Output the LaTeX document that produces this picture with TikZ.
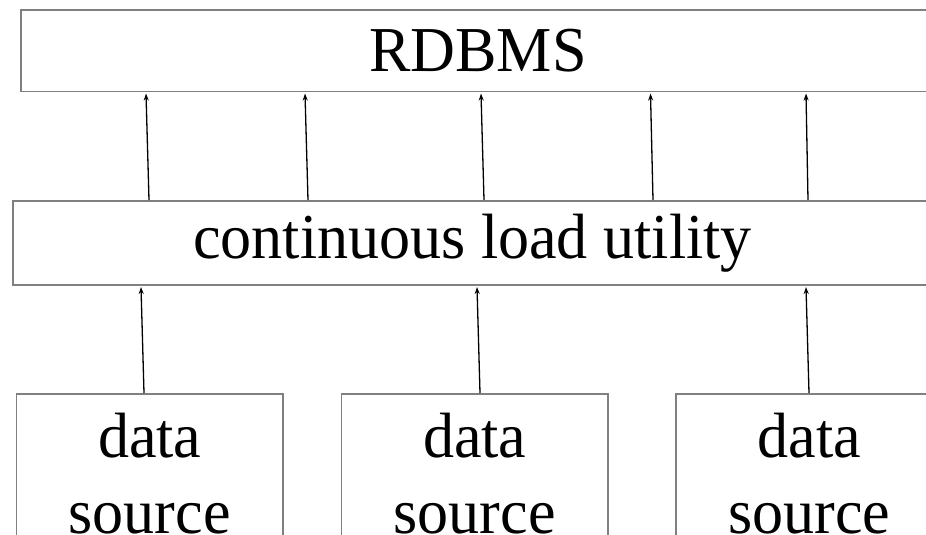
\documentclass[tikz,border=0pt]{standalone}
\usepackage{fontspec}
\setmainfont{Liberation Serif}[FakeStretch=0.97]
\usetikzlibrary{arrows.meta}
\definecolor{boxgray}{HTML}{808080}
\tikzset{
  boxstyle/.style={draw=boxgray, line width=1.6pt, rectangle, inner sep=0pt, outer sep=0pt,
    anchor=north west, font=\fontsize{64}{76}\selectfont, text=black},
  dsbox/.style={boxstyle, align=center, minimum width=266.5pt, inner ysep=19pt},
  conn/.style={line width=1.3pt, -{Stealth[length=7pt,width=5pt]}}
}
\begin{document}
\begin{tikzpicture}[x=1pt, y=-1pt]
\useasboundingbox (0,0) rectangle (926,535);
\clip (0,0) rectangle (926,535);
\node[boxstyle, minimum width=914pt, minimum height=81.5pt] (rdbms) at (21,10) {RDBMS};
\node[boxstyle, minimum width=919pt, minimum height=84pt] (cont) at (13,201) {\raisebox{-2pt}{continuous load utility}};
\node[dsbox] (ds1) at (16.5,394) {data\\source};
\node[dsbox] (ds2) at (341.5,394) {data\\source};
\node[dsbox] (ds3) at (676,394) {data\\source};
% upper connectors
\coordinate (a1) at (149,200); \coordinate (b1) at (146,93.5);
\coordinate (a2) at (308,200); \coordinate (b2) at (305,93.5);
\coordinate (a3) at (484,200); \coordinate (b3) at (481,93.5);
\coordinate (a4) at (653,200); \coordinate (b4) at (650.5,93.5);
\coordinate (a5) at (808,200); \coordinate (b5) at (806,93.5);
\foreach \i in {1,...,5} { \draw[conn] (a\i) -- (b\i); }
% lower connectors
\coordinate (c1) at (144,393); \coordinate (d1) at (141,287);
\coordinate (c2) at (480,393); \coordinate (d2) at (477,287);
\coordinate (c3) at (809,393); \coordinate (d3) at (806,287);
\foreach \i in {1,2,3} { \draw[conn] (c\i) -- (d\i); }
\end{tikzpicture}
\end{document}
